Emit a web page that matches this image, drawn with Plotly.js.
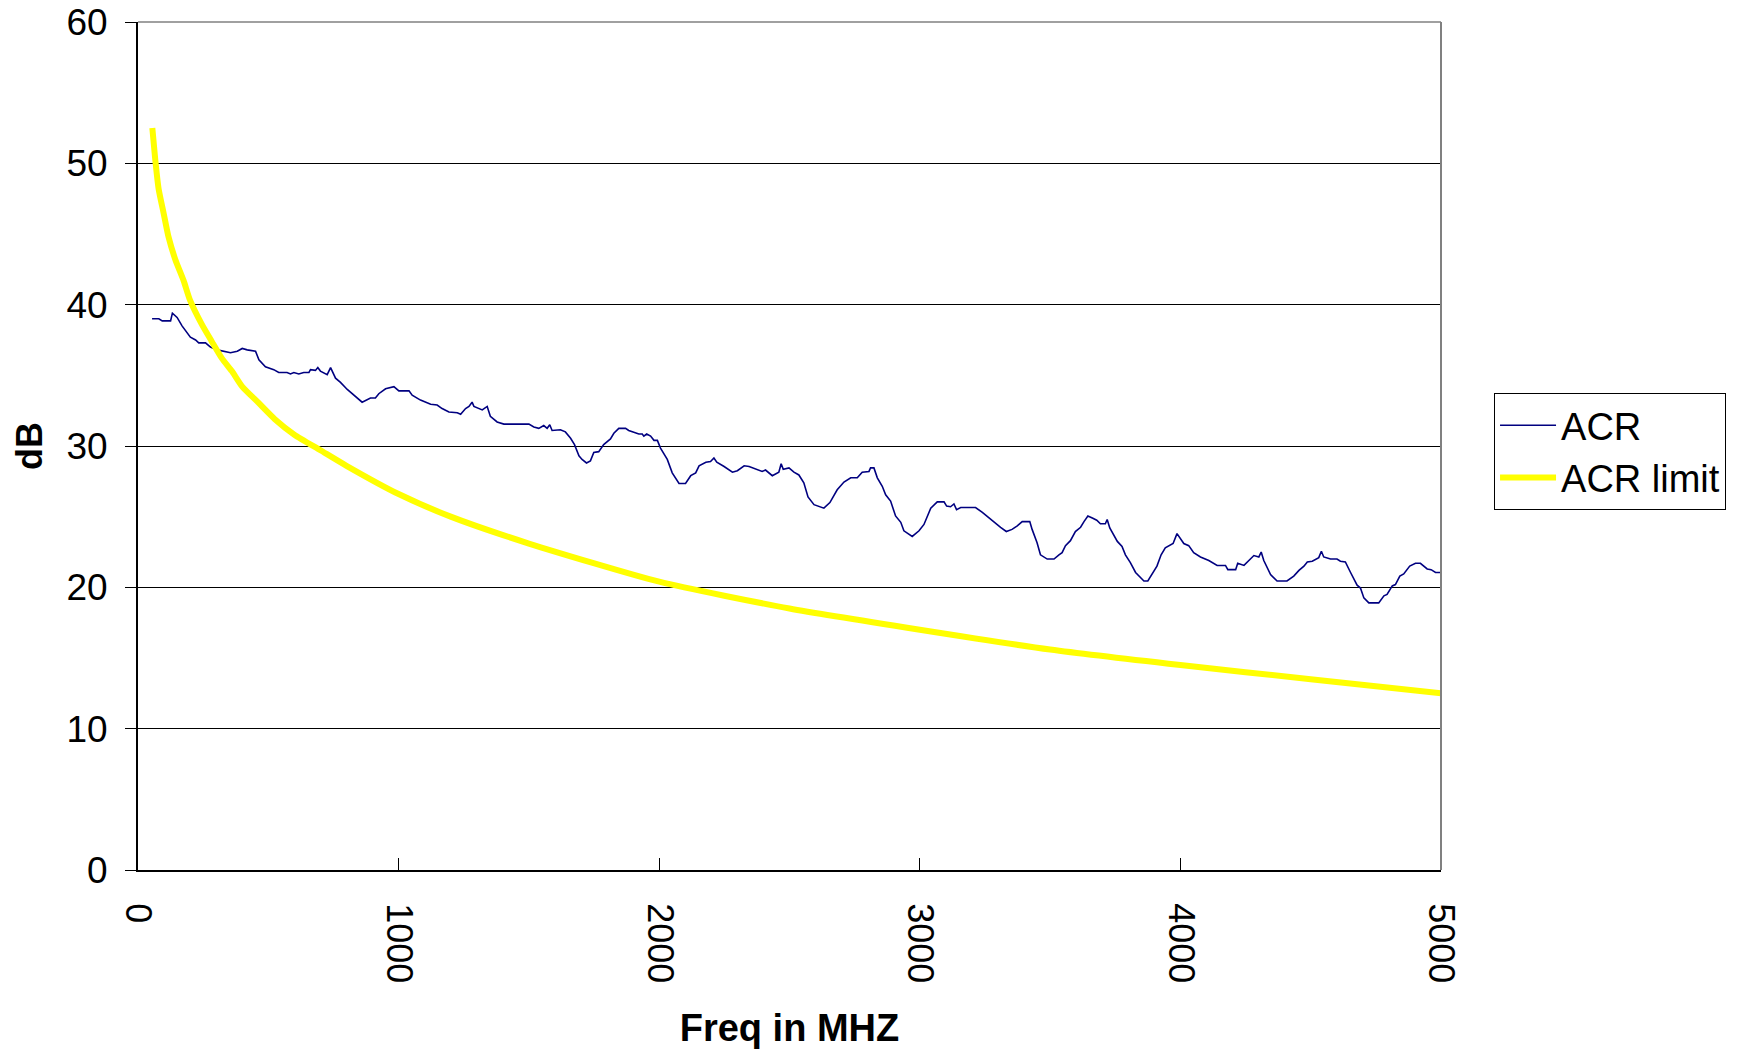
<!DOCTYPE html>
<html>
<head>
<meta charset="utf-8">
<script src="https://cdn.plot.ly/plotly-3.0.1.min.js"></script>
<style>html,body{margin:0;padding:0;background:#fff;}#chart{width:1739px;height:1049px;}</style>
</head>
<body>
<div id="chart"></div>
<script>
// ACR measurement (MHz, dB)
const acrFreq = [54,80,93,125,132,150,169,201,221,233,259,278,304,329,355,381,400,419,451,464,489,521,540,572,585,598,617,636,656,662,681,690,700,726,739,758,777,803,828,860,892,911,924,950,982,1001,1040,1052,1084,1123,1148,1167,1193,1225,1238,1257,1270,1282,1289,1321,1340,1352,1378,1404,1500,1519,1538,1557,1570,1580,1589,1621,1640,1660,1675,1692,1704,1721,1736,1749,1768,1787,1813,1826,1845,1871,1883,1909,1922,1935,1941,1952,1967,1980,1993,2005,2031,2050,2076,2101,2121,2140,2153,2179,2197,2210,2221,2249,2281,2300,2326,2345,2371,2395,2408,2434,2459,2468,2476,2498,2517,2536,2555,2571,2594,2632,2655,2683,2709,2735,2760,2779,2805,2811,2824,2837,2856,2869,2888,2907,2927,2939,2971,2997,3016,3042,3067,3093,3103,3118,3131,3141,3157,3214,3240,3272,3290,3310,3332,3354,3374,3393,3422,3431,3450,3463,3489,3515,3534,3546,3559,3578,3597,3617,3630,3645,3662,3679,3693,3712,3719,3729,3758,3776,3789,3808,3828,3860,3875,3898,3910,3926,3942,3972,3987,4013,4032,4051,4077,4109,4141,4173,4182,4212,4220,4244,4282,4301,4310,4320,4346,4371,4409,4435,4455,4474,4487,4506,4531,4541,4550,4576,4601,4614,4633,4653,4678,4691,4704,4723,4761,4781,4793,4813,4825,4842,4857,4880,4902,4921,4947,4962,4979,4998];
const acrValue = [39.0,39.0,38.85,38.85,39.4,39.1,38.5,37.7,37.5,37.3,37.3,37.0,36.8,36.7,36.6,36.7,36.9,36.8,36.7,36.1,35.6,35.4,35.2,35.2,35.1,35.2,35.1,35.2,35.2,35.4,35.35,35.55,35.3,35.05,35.55,34.8,34.5,34.0,33.6,33.1,33.4,33.4,33.7,34.05,34.2,33.9,33.9,33.6,33.25,32.95,32.9,32.65,32.4,32.35,32.25,32.65,32.8,33.1,32.8,32.55,32.8,32.1,31.7,31.55,31.55,31.35,31.25,31.45,31.25,31.5,31.1,31.15,31.0,30.55,30.1,29.3,29.05,28.8,28.95,29.55,29.6,30.1,30.5,30.9,31.25,31.25,31.1,30.95,30.85,30.85,30.7,30.85,30.7,30.4,30.4,29.85,29.05,28.1,27.35,27.35,27.9,28.1,28.6,28.85,28.9,29.15,28.85,28.55,28.15,28.25,28.6,28.55,28.35,28.2,28.3,27.9,28.15,28.75,28.35,28.45,28.15,27.95,27.4,26.4,25.85,25.6,26.0,26.9,27.45,27.75,27.75,28.15,28.2,28.45,28.45,27.75,27.15,26.55,26.1,25.05,24.6,24.0,23.6,24.0,24.45,25.6,26.05,26.05,25.75,25.7,25.9,25.5,25.65,25.65,25.3,24.8,24.55,24.25,23.95,24.1,24.35,24.65,24.65,24.1,23.15,22.3,22.0,22.0,22.3,22.45,22.95,23.3,23.95,24.25,24.65,25.05,24.9,24.75,24.5,24.5,24.8,24.2,23.25,22.9,22.3,21.75,21.05,20.45,20.45,21.15,21.5,22.3,22.8,23.1,23.8,23.1,22.95,22.45,22.15,21.9,21.55,21.55,21.25,21.25,21.7,21.55,22.25,22.15,22.5,21.9,20.9,20.45,20.45,20.8,21.2,21.5,21.8,21.85,22.1,22.55,22.15,22.0,22.0,21.85,21.8,21.05,20.15,19.95,19.25,18.9,18.9,19.4,19.5,20.1,20.2,20.8,20.95,21.5,21.7,21.7,21.3,21.25,21.05,21.05];

// ACR limit (MHz, dB)
const limitFreq = [55,66,79,98,117,143,175,200,245,283,322,360,400,460,525,600,700,800,1000,1200,1500,2000,2500,3000,3500,4000,4500,5000];
const limitValue = [52.5,50.3,48.2,46.5,44.8,43.2,41.7,40.3,38.6,37.4,36.2,35.3,34.2,33.1,31.9,30.8,29.7,28.6,26.6,25.0,23.1,20.4,18.5,17.0,15.6,14.5,13.5,12.5];

const xTicks = [0,1000,2000,3000,4000,5000];
const yTicks = [0,10,20,30,40,50,60];

const FONT = 'Liberation Sans, Arial, sans-serif';

const traces = [
  {x: acrFreq, y: acrValue, name: 'ACR', type: 'scatter', mode: 'lines',
   line: {color: '#000080', width: 1.6}},
  {x: limitFreq, y: limitValue, name: 'ACR limit', type: 'scatter', mode: 'lines',
   line: {color: '#FFFF00', width: 6, shape: 'spline', smoothing: 0.6}}
];

const layout = {
  width: 1739, height: 1049,
  paper_bgcolor: '#ffffff', plot_bgcolor: '#ffffff',
  margin: {l: 138, r: 298, t: 22, b: 179, pad: 0},
  font: {family: FONT, color: '#000', size: 34},
  showlegend: true,
  legend: {x: 1.0407, xanchor: 'left', y: 0.5625, yanchor: 'top',
           bordercolor: '#000', borderwidth: 1, bgcolor: '#fff',
           font: {family: FONT, size: 38, color: '#000'}, itemwidth: 56,
           tracegroupgap: 0},
  xaxis: {
    range: [0, 5000], tickvals: xTicks, ticktext: xTicks.map(String),
    tickangle: 90, ticks: 'inside', ticklen: 12, tickcolor: '#000', tickwidth: 1,
    showline: true, linecolor: '#000', linewidth: 2, showgrid: false, zeroline: false,
    tickfont: {family: FONT, size: 36, color: '#000'}, ticklabelstandoff: 24,
    title: {text: 'Freq in MHZ', font: {family: FONT, size: 38, color: '#000', weight: 'bold'}, standoff: 33}
  },
  yaxis: {
    range: [0, 60], tickvals: yTicks, ticktext: yTicks.map(String),
    ticks: 'outside', ticklen: 11, tickcolor: '#000', tickwidth: 1,
    showline: true, linecolor: '#000', linewidth: 2,
    showgrid: true, gridcolor: '#000', gridwidth: 1, zeroline: false,
    tickfont: {family: FONT, size: 37, color: '#000'}, ticklabelstandoff: 10
  },
  annotations: [
    {text: '<b>dB</b>', xref: 'paper', yref: 'paper', x: -0.0837, y: 0.5,
     xanchor: 'center', yanchor: 'middle', textangle: -90, showarrow: false,
     font: {family: FONT, size: 36, color: '#000'}}
  ],
  shapes: [
    {type: 'line', xref: 'paper', yref: 'paper', x0: 0, x1: 1, y0: 1, y1: 1, line: {color: '#808080', width: 1.5}},
    {type: 'line', xref: 'paper', yref: 'paper', x0: 1, x1: 1, y0: 0, y1: 1, line: {color: '#808080', width: 2}}
  ]
};

Plotly.newPlot('chart', traces, layout, {displayModeBar: false, staticPlot: true});
</script>
</body>
</html>
